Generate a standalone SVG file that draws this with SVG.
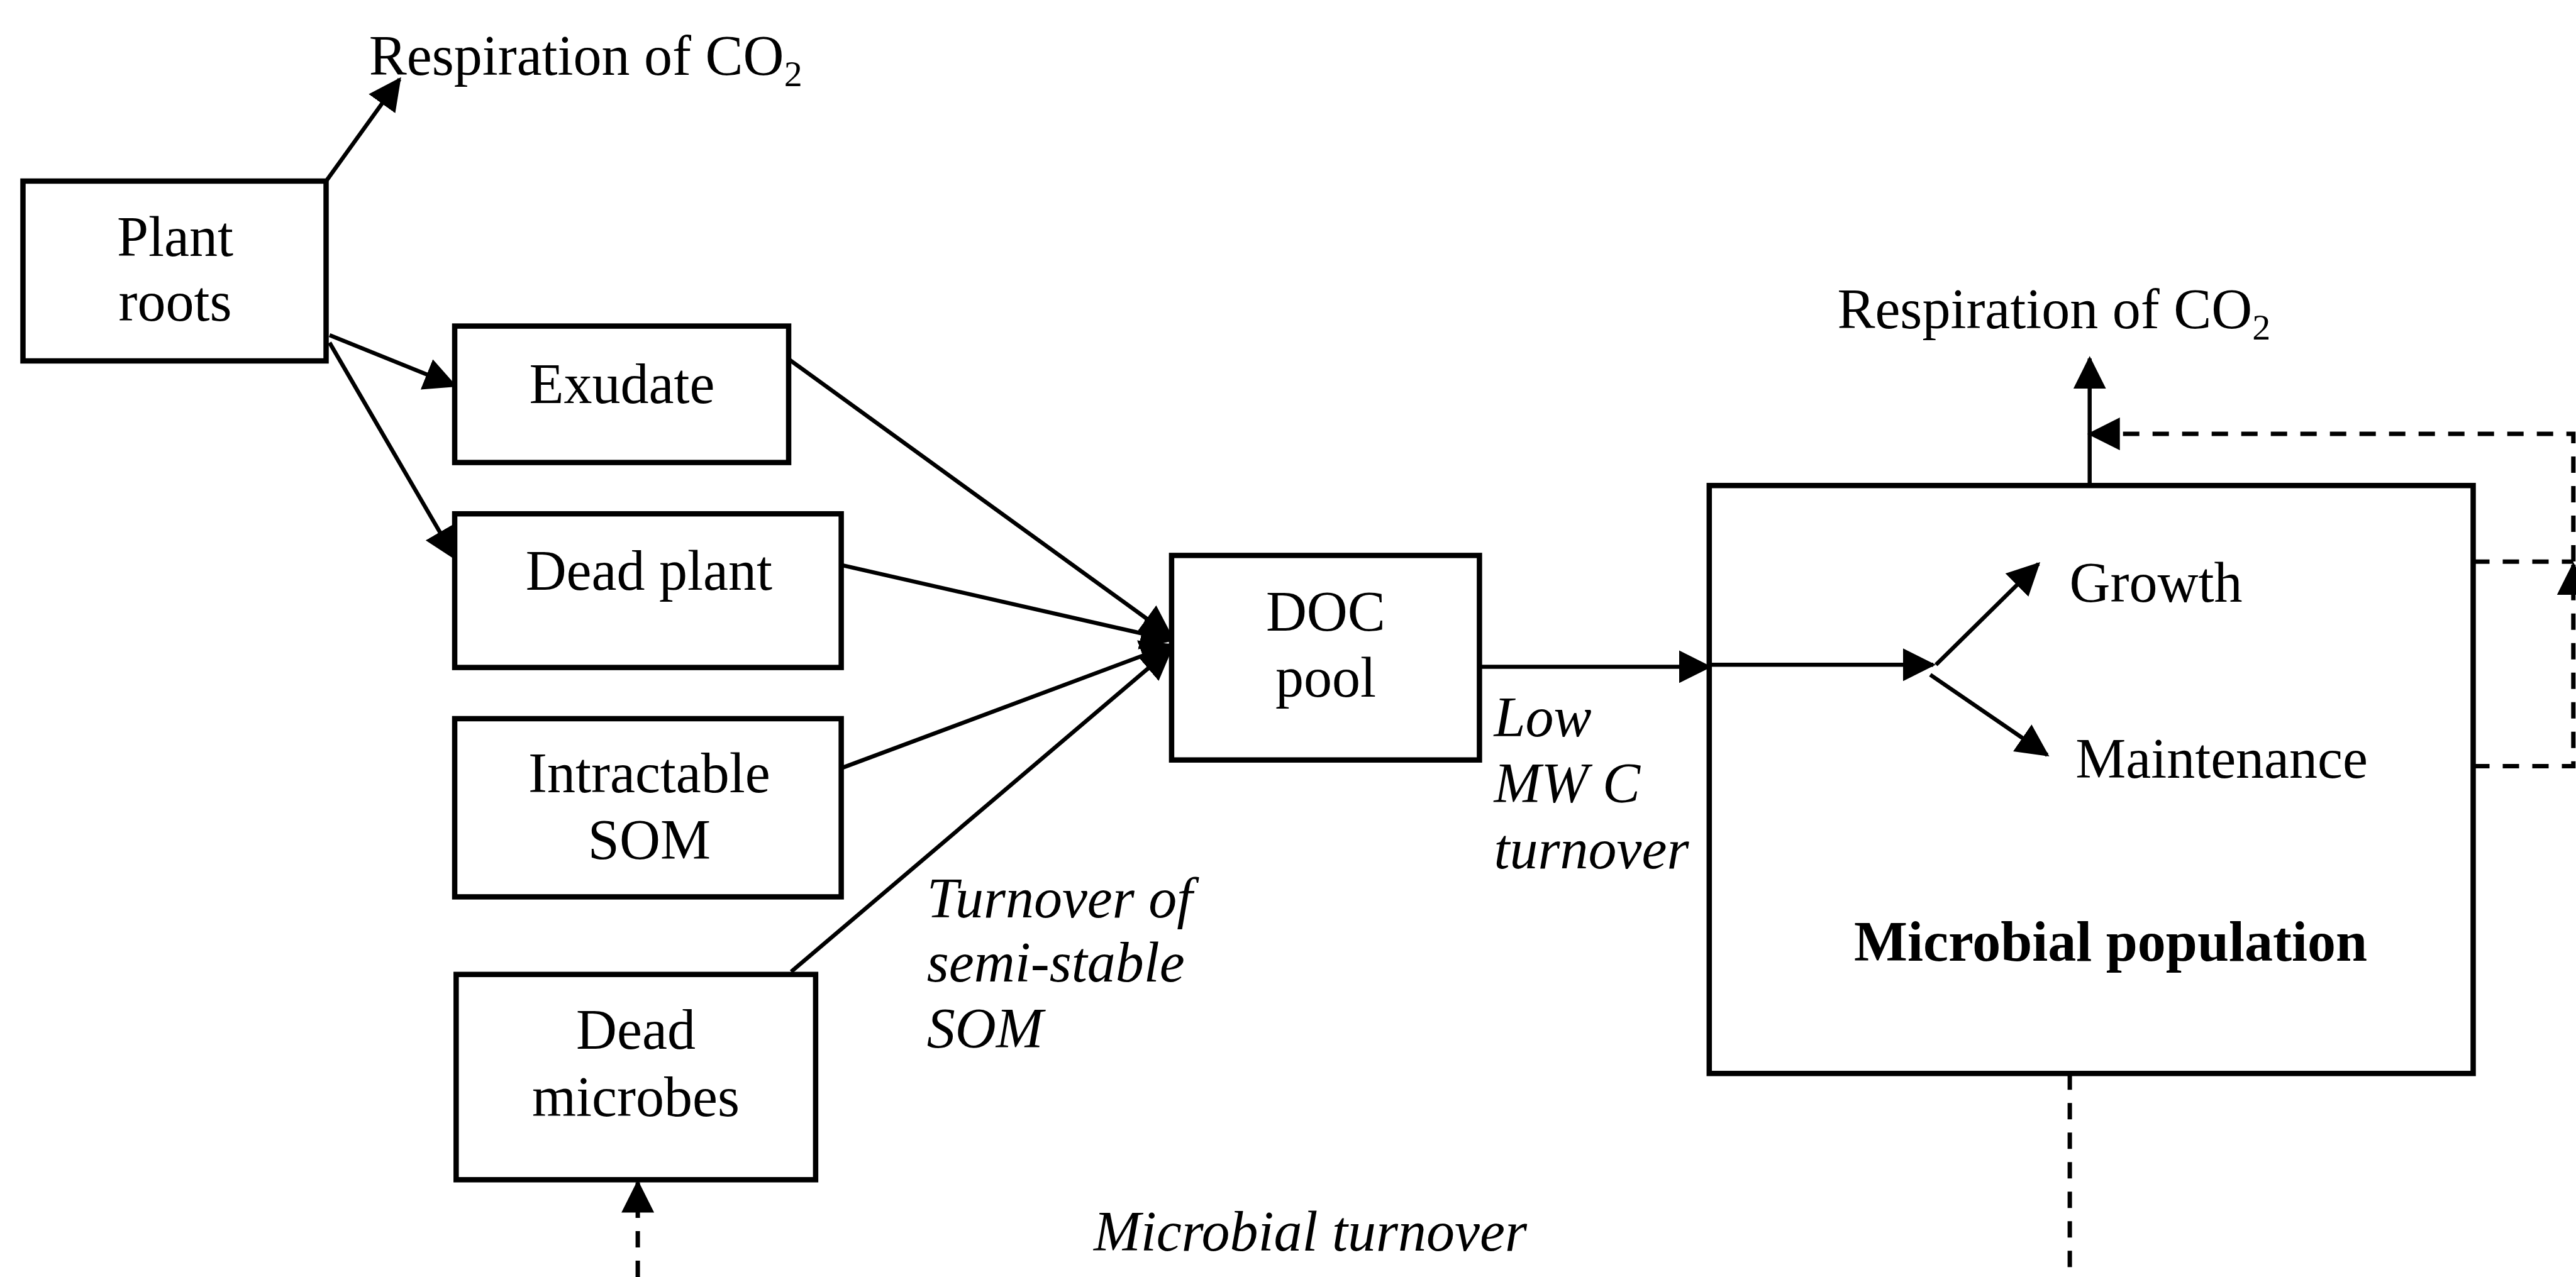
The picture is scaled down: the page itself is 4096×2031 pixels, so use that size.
<svg xmlns="http://www.w3.org/2000/svg" width="4096" height="2031" viewBox="0 0 4096 2031">
<style>
  .box { fill: none; stroke: #000; stroke-width: 8.5; }
  .lbl { font-family: "Liberation Serif", "Times New Roman", serif; font-size: 90px; fill: #000; }
  .c { text-anchor: middle; }
  .it { font-style: italic; }
  .bd { font-weight: bold; }
  .ln { fill: none; stroke: #000; stroke-width: 6.5; }
  .dash { fill: none; stroke: #000; stroke-width: 7; stroke-dasharray: 26 21; }
</style>
<defs>
  <marker id="ah" viewBox="0 0 52 52" refX="48" refY="26" markerWidth="52" markerHeight="52" markerUnits="userSpaceOnUse" orient="auto">
    <path d="M0,0 L52,26 L0,52 z" fill="#000" stroke="none"/>
  </marker>
</defs>
<rect width="4096" height="2031" fill="#fff"/>

<g id="plant-roots">
  <rect class="box" x="36.5" y="288" width="482" height="286"/>
  <text class="lbl c" x="278.5" y="406.8">Plant</text>
  <text class="lbl c" x="278.5" y="510">roots</text>
</g>
<g id="exudate">
  <rect class="box" x="723" y="518.6" width="531" height="217"/>
  <text class="lbl c" x="989" y="641.4">Exudate</text>
</g>
<g id="dead-plant">
  <rect class="box" x="723" y="817.2" width="614.6" height="244.4"/>
  <text class="lbl c" x="1031.8" y="937.5">Dead plant</text>
</g>
<g id="intractable-som">
  <rect class="box" x="723" y="1143" width="614.6" height="283.4"/>
  <text class="lbl c" x="1032.4" y="1259.8">Intractable</text>
  <text class="lbl c" x="1032.4" y="1366.2">SOM</text>
</g>
<g id="dead-microbes">
  <rect class="box" x="725.3" y="1549.8" width="571.6" height="326.5"/>
  <text class="lbl c" x="1011" y="1667.7">Dead</text>
  <text class="lbl c" x="1011" y="1775.4">microbes</text>
</g>
<g id="doc-pool">
  <rect class="box" x="1862.9" y="883.4" width="489.5" height="325.3"/>
  <text class="lbl c" x="2107.9" y="1002.6">DOC</text>
  <text class="lbl c" x="2107.9" y="1107.8">pool</text>
</g>
<g id="microbial-population">
  <rect class="box" x="2717.8" y="772.2" width="1214.7" height="935.1"/>
  <text class="lbl" x="3290.5" y="957">Growth</text>
  <text class="lbl" x="3300.2" y="1236.7">Maintenance</text>
  <text class="lbl c bd" x="3356" y="1527.9">Microbial population</text>
</g>

<g id="labels">
  <text class="lbl" x="586.7" y="118.6">Respiration of CO<tspan font-size="58" dy="18">2</tspan></text>
  <text class="lbl" x="2921.4" y="522.3">Respiration of CO<tspan font-size="58" dy="18">2</tspan></text>
  <text class="lbl it" x="2375.5" y="1171">Low</text>
  <text class="lbl it" x="2375.5" y="1275.6">MW C</text>
  <text class="lbl it" x="2375.5" y="1380.8">turnover</text>
  <text class="lbl it" x="1473.8" y="1459.2">Turnover of</text>
  <text class="lbl it" x="1473.8" y="1560.7">semi-stable</text>
  <text class="lbl it" x="1473.8" y="1665.9">SOM</text>
  <text class="lbl it" x="1738.9" y="1988.8">Microbial turnover</text>
</g>

<g id="connectors">
  <line class="ln" x1="518.6" y1="288" x2="635.4" y2="125.9" marker-end="url(#ah)"/>
  <line class="ln" x1="524" y1="533" x2="723" y2="613.5" marker-end="url(#ah)"/>
  <line class="ln" x1="524" y1="545" x2="723.5" y2="887.7" marker-end="url(#ah)"/>
  <line class="ln" x1="1256" y1="572.7" x2="1862" y2="1012" marker-end="url(#ah)"/>
  <line class="ln" x1="1337.6" y1="898.6" x2="1862" y2="1018" marker-end="url(#ah)"/>
  <line class="ln" x1="1340" y1="1220.9" x2="1862" y2="1026" marker-end="url(#ah)"/>
  <line class="ln" x1="1258" y1="1545.5" x2="1862" y2="1032" marker-end="url(#ah)"/>
  <line class="ln" x1="2352.4" y1="1060.4" x2="2717.8" y2="1060.4" marker-end="url(#ah)"/>
  <line class="ln" x1="2717.8" y1="1057.3" x2="3074" y2="1057.3" marker-end="url(#ah)"/>
  <line class="ln" x1="3078.3" y1="1057.3" x2="3241.2" y2="896.8" marker-end="url(#ah)"/>
  <line class="ln" x1="3069.2" y1="1073.1" x2="3255.2" y2="1200.8" marker-end="url(#ah)"/>
  <line class="ln" x1="3322.7" y1="772.2" x2="3322.7" y2="570.3" marker-end="url(#ah)"/>
  <path class="dash" d="M4091.8,893 L4091.8,690.1 L3322.7,690.1" marker-end="url(#ah)"/>
  <line class="dash" x1="3932.5" y1="893.2" x2="4091.8" y2="893.2"/>
  <path class="dash" d="M3932.5,1218.4 L4091.8,1218.4 L4091.8,898" marker-end="url(#ah)"/>
  <line class="dash" x1="3291.1" y1="1707.3" x2="3291.1" y2="2031"/>
  <line class="dash" x1="1014.1" y1="2031" x2="1014.1" y2="1880.5" marker-end="url(#ah)"/>
</g>
</svg>
